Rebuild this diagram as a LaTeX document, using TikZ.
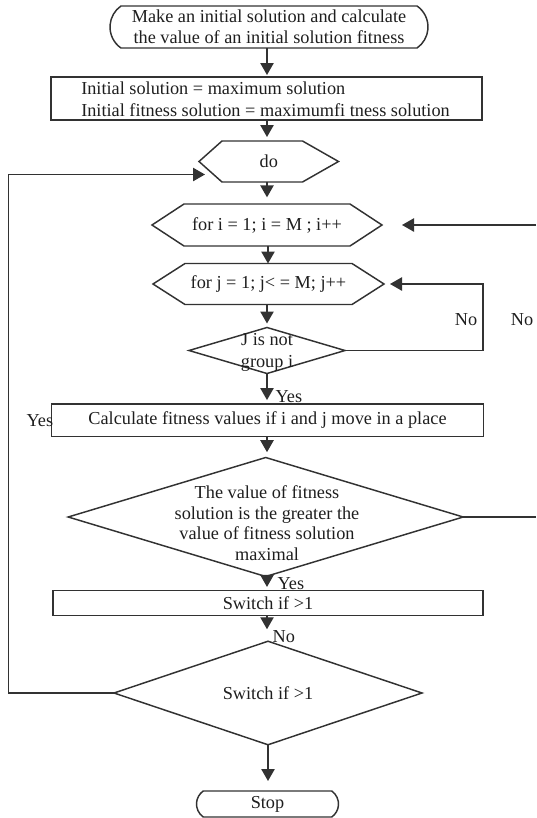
\documentclass[tikz,border=0pt]{standalone}
\usepackage{fontspec}
\setmainfont{Liberation Serif}
\usetikzlibrary{arrows.meta,shapes.misc,shapes.geometric,calc}
\definecolor{ln}{RGB}{50,50,50}
\definecolor{tx}{RGB}{30,30,30}
\begin{document}
\begin{tikzpicture}[x=0.75pt,y=-0.75pt,
  every node/.style={text=tx,font=\fontsize{13.7}{15.5}\selectfont},
  shp/.style={draw=ln,line width=1.1pt,inner sep=0pt,outer sep=0pt},
  term/.style={shp,rounded rectangle,rounded rectangle arc length=110},
  dia/.style={shp,diamond},
  hexa/.style={rectangle,inner sep=0pt,outer sep=0pt},
  lbl/.style={inner sep=1pt},
  arr/.style={draw=ln,line width=1.1pt,-{Triangle[width=10pt,length=9pt]}},
  ln/.style={draw=ln,line width=1.1pt}]
\useasboundingbox (0,0) rectangle (536,818);
% start
\node[term,minimum width=318*0.75pt,minimum height=42*0.75pt,align=center] (start) at (269,27)
  {Make an initial solution and calculate\\the value of an initial solution fitness};
% box2
\node[shp,rectangle,minimum width=431*0.75pt,minimum height=43*0.75pt] (init) at (266.5,98.5) {};
\node[anchor=west,align=left,inner sep=0pt,font=\fontsize{13.7}{16.5}\selectfont] (inittxt) at (81,99)
  {Initial solution = maximum solution\\Initial fitness solution = maximumfi tness solution};
% do hexagon
\node[hexa,minimum width=139.5*0.75pt,minimum height=41*0.75pt] (do) at (268.75,161.5) {do};
\draw[ln] (do.west) -- ($(do.north west)+(23,0)$) -- ($(do.north east)+(-36,0)$) -- (do.east)
  -- ($(do.south east)+(-36,0)$) -- ($(do.south west)+(23,0)$) -- cycle;
% for i hexagon
\node[hexa,minimum width=230*0.75pt,minimum height=42*0.75pt] (fori) at (267,225) {for i = 1; i = M ; i++};
\draw[ln] (fori.west) -- ($(fori.north west)+(32,0)$) -- ($(fori.north east)+(-32,0)$) -- (fori.east)
  -- ($(fori.south east)+(-32,0)$) -- ($(fori.south west)+(32,0)$) -- cycle;
% for j hexagon
\node[hexa,minimum width=231*0.75pt,minimum height=41*0.75pt] (forj) at (268.5,284) {for j = 1; j< = M; j++};
\draw[ln] (forj.west) -- ($(forj.north west)+(32,0)$) -- ($(forj.north east)+(-32,0)$) -- (forj.east)
  -- ($(forj.south east)+(-32,0)$) -- ($(forj.south west)+(32,0)$) -- cycle;
% J diamond
\node[dia,minimum width=156*0.75pt,minimum height=46*0.75pt] (jd) at (267,350.5) {};
\node[align=center,inner sep=0pt,font=\fontsize{13.7}{16.5}\selectfont] (jdt) at (267,352) {J is not\\group i};
% calc box
\node[shp,rectangle,minimum width=432.5*0.75pt,minimum height=32.5*0.75pt] (calc) at (267.5,420.3)
  {Calculate fitness values if i and j move in a place};
% big diamond
\node[dia,minimum width=395*0.75pt,minimum height=119*0.75pt] (big) at (265.7,517) {};
\node[align=center,inner sep=0pt] (bigt) at (267,523)
  {The value of fitness\\solution is the greater the\\value of fitness solution\\maximal};
% switch box
\node[shp,rectangle,minimum width=430*0.75pt,minimum height=25.5*0.75pt] (sw) at (268,603) {Switch if >1};
% switch diamond
\node[dia,minimum width=308*0.75pt,minimum height=91*0.75pt] (swd) at (268,693) {Switch if >1};
% stop
\node[term,minimum width=142*0.75pt,minimum height=26*0.75pt] (stop) at (267.5,804) {Stop};
% coordinates
\coordinate (loopL) at (8.5,174.5);
\coordinate (doin) at (205,174.5);
\coordinate (rtop) at (536,225);
\coordinate (foriin) at (402,225);
\coordinate (rbot) at (536,517);
\coordinate (jr) at (483,284);
\coordinate (forjin) at (390,284);
% arrows
\draw[arr,shorten >=1.5pt] (267,48) -- (init.north -| 267,0);
\draw[arr,shorten >=3pt] (init.south -| 267,0) -- (do.north -| 267,0);
\draw[arr,shorten >=5pt] (do.south -| 267,0) -- (fori.north -| 267,0);
\draw[arr] (fori.south -| 268,0) -- (forj.north -| 268,0);
\draw[arr,shorten >=3pt] (forj.south -| 267,0) -- (jd.north);
\draw[arr,shorten >=3pt] (jd.south) -- (calc.north -| jd.south);
\draw[arr,shorten >=4pt] (calc.south -| 267,0) -- (big.north -| 267,0);
\draw[arr,shorten >=2.5pt] (big.south -| 267,0) -- (sw.north -| 267,0);
\draw[arr,shorten >=9pt] (sw.south -| 267,0) -- (swd.north -| 267,0);
\draw[arr,shorten >=7.5pt] (swd.south) -- (stop.north -| swd.south);
\draw[arr] (swd.west) -| (loopL) -- (doin);
\draw[arr] (rtop) -- (foriin);
\draw[ln] (big.east) -- (rbot);
\draw[arr] (jd.east) -| (jr) -- (forjin);
% labels
\node[lbl] (no1) at (466,320) {No};
\node[lbl] (no2) at (522,320) {No};
\node[lbl,anchor=west] (yes1) at (274,397) {Yes};
\node[lbl,anchor=west] (yes2) at (25,421) {Yes};
\node[lbl,anchor=west] (yes3) at (276,584) {Yes};
\node[lbl,anchor=west] (no3) at (271,637) {No};
\end{tikzpicture}
\end{document}
